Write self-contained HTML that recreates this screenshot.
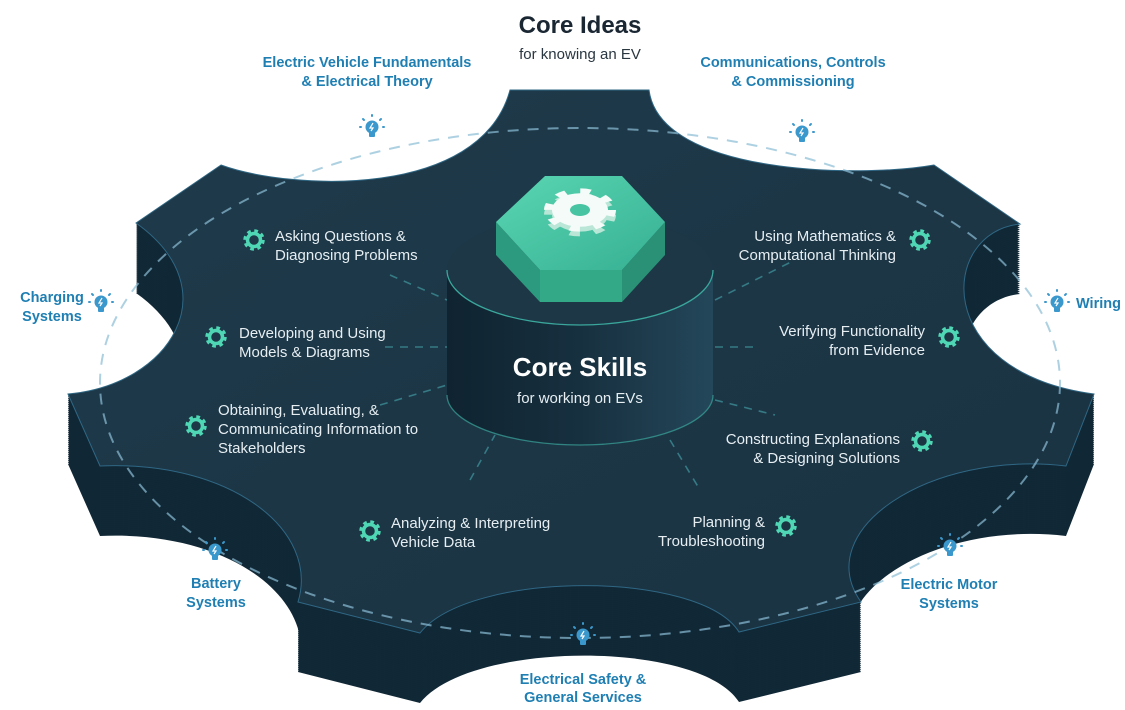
<!DOCTYPE html>
<html><head><meta charset="utf-8"><style>
html,body{margin:0;padding:0;background:#fff;}
svg{display:block;font-family:"Liberation Sans",sans-serif;}
.it{fill:#e6eef2;font-size:15px;}
.ol{fill:#1f7fb3;font-size:14.5px;font-weight:bold;}
</style></head><body>
<svg width="1125" height="710" viewBox="0 0 1125 710" xmlns="http://www.w3.org/2000/svg">
<defs>
<path id="face" d="M136,223 L221,165 C290,190 480,200 510,90 L649,90 C660,175 860,178 934,165 L1020,224 C940,232 930,372 1094,394 L1066,466 C930,450 810,530 861,602 L739,632 C700,570 470,570 420,633 L298,602 C320,530 230,460 100,466 L68,394 C170,385 230,290 136,223 Z"/>
<linearGradient id="tg" x1="0" y1="0" x2="1" y2="1">
<stop offset="0" stop-color="#1f3b4b"/><stop offset="0.5" stop-color="#1c3646"/><stop offset="1" stop-color="#1a3343"/></linearGradient>
<linearGradient id="cg" x1="0" y1="0" x2="1" y2="0">
<stop offset="0" stop-color="#0f2330"/><stop offset="0.5" stop-color="#17303f"/><stop offset="1" stop-color="#24475a"/></linearGradient>
<linearGradient id="hg" x1="0" y1="0" x2="1" y2="1">
<stop offset="0" stop-color="#5ad6b3"/><stop offset="1" stop-color="#36b092"/></linearGradient>
<g id="gear"><circle r="6.5" fill="none" stroke="#4fd6b4" stroke-width="3.5"/><circle r="9" fill="none" stroke="#4fd6b4" stroke-width="3.5" stroke-dasharray="3.6 3.47"/></g>
<g id="bulb"><circle r="6.5" fill="#3b98cc"/><rect x="-3" y="5" width="6" height="5" rx="1" fill="#3b98cc"/><path d="M1,-4 L-2,1 L1,1 L-1,4" stroke="#fff" stroke-width="1.2" fill="none"/><g stroke="#3b98cc" stroke-width="2" stroke-linecap="round"><line x1="0" y1="-12" x2="0" y2="-11"/><line x1="-9" y1="-8" x2="-8" y2="-7"/><line x1="9" y1="-8" x2="8" y2="-7"/><line x1="-12" y1="0" x2="-11" y2="0"/><line x1="12" y1="0" x2="11" y2="0"/></g></g>
</defs>

<!-- extrusion -->
<g fill="#112836">
<use href="#face" y="70"/><use href="#face" y="68"/><use href="#face" y="66"/><use href="#face" y="64"/><use href="#face" y="62"/><use href="#face" y="60"/><use href="#face" y="58"/><use href="#face" y="56"/><use href="#face" y="54"/><use href="#face" y="52"/><use href="#face" y="50"/><use href="#face" y="48"/><use href="#face" y="46"/><use href="#face" y="44"/><use href="#face" y="42"/><use href="#face" y="40"/><use href="#face" y="38"/><use href="#face" y="36"/><use href="#face" y="34"/><use href="#face" y="32"/><use href="#face" y="30"/><use href="#face" y="28"/><use href="#face" y="26"/><use href="#face" y="24"/><use href="#face" y="22"/><use href="#face" y="20"/><use href="#face" y="18"/><use href="#face" y="16"/><use href="#face" y="14"/><use href="#face" y="12"/><use href="#face" y="10"/><use href="#face" y="8"/><use href="#face" y="6"/><use href="#face" y="4"/><use href="#face" y="2"/>
</g>
<use href="#face" fill="url(#tg)" stroke="#2f6784" stroke-width="1"/>

<!-- dashed ring -->
<ellipse cx="580" cy="383" rx="480" ry="255" fill="none" stroke="#8cbdd6" stroke-width="2" stroke-dasharray="11 9" opacity="0.7"/>

<!-- connectors -->
<g stroke="#3c8c94" stroke-width="1.6" stroke-dasharray="8 7" fill="none" opacity="0.8">
<line x1="390" y1="275" x2="447" y2="300"/>
<line x1="385" y1="347" x2="447" y2="347"/>
<line x1="380" y1="405" x2="447" y2="385"/>
<line x1="470" y1="480" x2="495" y2="435"/>
<line x1="715" y1="300" x2="795" y2="260"/>
<line x1="715" y1="347" x2="760" y2="347"/>
<line x1="715" y1="400" x2="775" y2="415"/>
<line x1="670" y1="440" x2="700" y2="490"/>
</g>

<!-- cylinder -->
<path d="M447,270 L447,395 A133,50 0 0 0 713,395 L713,270 A133,55 0 0 1 447,270 Z" fill="url(#cg)"/>
<ellipse cx="580" cy="270" rx="133" ry="55" fill="#1d3747"/>
<path d="M447,270 A133,55 0 0 0 713,270" fill="none" stroke="#3aa79c" stroke-width="1.3"/>
<path d="M447,395 A133,50 0 0 0 713,395" fill="none" stroke="#3aa79c" stroke-width="1.3" opacity="0.7"/>

<!-- hexagon -->
<polygon points="496,222 540,270 540,302 496,255" fill="#2c9a7e"/>
<polygon points="540,270 622,270 622,302 540,302" fill="#33a988"/>
<polygon points="622,270 665,222 665,255 622,302" fill="#2a9177"/>
<polygon points="496,222 545,176 622,176 665,222 622,270 540,270" fill="url(#hg)"/>
<g transform="translate(580,210) scale(1,0.6)">
<g transform="translate(0,8)">
<circle r="31" fill="none" stroke="#b9e6d6" stroke-width="10" stroke-dasharray="10 14.35"/>
<circle r="28" fill="#b9e6d6"/>
</g>
<circle r="31" fill="none" stroke="#f4fbf8" stroke-width="10" stroke-dasharray="10 14.35"/>
<circle r="28" fill="#f4fbf8"/>
<circle r="10" fill="#47c4a2"/>
</g>

<!-- center text -->
<text x="580" y="376" text-anchor="middle" fill="#fff" font-size="26" font-weight="bold">Core Skills</text>
<text x="580" y="403" text-anchor="middle" fill="#e6eef2" font-size="15">for working on EVs</text>

<!-- title -->
<text x="580" y="33" text-anchor="middle" fill="#1a2733" font-size="24" font-weight="bold">Core Ideas</text>
<text x="580" y="59" text-anchor="middle" fill="#2a3640" font-size="15">for knowing an EV</text>

<!-- items left -->
<use href="#gear" x="254" y="240"/>
<text class="it" x="275" y="241">Asking Questions &amp;</text>
<text class="it" x="275" y="260">Diagnosing Problems</text>
<use href="#gear" x="216" y="337"/>
<text class="it" x="239" y="338">Developing and Using</text>
<text class="it" x="239" y="357">Models &amp; Diagrams</text>
<use href="#gear" x="196" y="426"/>
<text class="it" x="218" y="415">Obtaining, Evaluating, &amp;</text>
<text class="it" x="218" y="434">Communicating Information to</text>
<text class="it" x="218" y="453">Stakeholders</text>
<use href="#gear" x="370" y="531"/>
<text class="it" x="391" y="528">Analyzing &amp; Interpreting</text>
<text class="it" x="391" y="547">Vehicle Data</text>

<!-- items right -->
<g text-anchor="end">
<text class="it" x="896" y="241">Using Mathematics &amp;</text>
<text class="it" x="896" y="260">Computational Thinking</text>
<text class="it" x="925" y="336">Verifying Functionality</text>
<text class="it" x="925" y="355">from Evidence</text>
<text class="it" x="900" y="444">Constructing Explanations</text>
<text class="it" x="900" y="463">&amp; Designing Solutions</text>
<text class="it" x="765" y="527">Planning &amp;</text>
<text class="it" x="765" y="546">Troubleshooting</text>
</g>
<use href="#gear" x="920" y="240"/>
<use href="#gear" x="949" y="337"/>
<use href="#gear" x="922" y="441"/>
<use href="#gear" x="786" y="526"/>

<!-- bulbs -->
<use href="#bulb" x="372" y="127"/>
<use href="#bulb" x="802" y="132"/>
<use href="#bulb" x="101" y="302"/>
<use href="#bulb" x="1057" y="302"/>
<use href="#bulb" x="215" y="550"/>
<use href="#bulb" x="950" y="546"/>
<use href="#bulb" x="583" y="635"/>

<!-- outer labels -->
<g text-anchor="middle">
<text class="ol" x="367" y="67">Electric Vehicle Fundamentals</text>
<text class="ol" x="367" y="86">&amp; Electrical Theory</text>
<text class="ol" x="793" y="67">Communications, Controls</text>
<text class="ol" x="793" y="86">&amp; Commissioning</text>
<text class="ol" x="52" y="302">Charging</text>
<text class="ol" x="52" y="321">Systems</text>
<text class="ol" x="216" y="588">Battery</text>
<text class="ol" x="216" y="607">Systems</text>
<text class="ol" x="949" y="589">Electric Motor</text>
<text class="ol" x="949" y="608">Systems</text>
<text class="ol" x="583" y="684">Electrical Safety &amp;</text>
<text class="ol" x="583" y="702">General Services</text>
</g>
<text class="ol" x="1076" y="308">Wiring</text>
</svg>
</body></html>
